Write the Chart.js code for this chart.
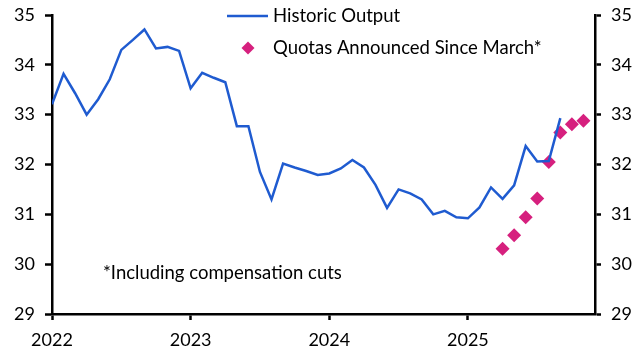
<!DOCTYPE html>
<html>
<head>
<meta charset="utf-8">
<script src="https://cdn.jsdelivr.net/npm/chart.js@4/dist/chart.umd.min.js"></script>
<style>
  html, body { margin: 0; padding: 0; background: #fff; }
  #wrap { width: 640px; height: 362px; position: relative; }
</style>
</head>
<body>
<div id="wrap"><canvas id="chart"></canvas></div>
<script>
// Données
const startMonth = '2022-01';
const historicOutput = [33.21, 33.82, 33.43, 33.0, 33.31, 33.71, 34.3, 34.5, 34.71, 34.33, 34.36, 34.28,
  33.53, 33.84, 33.74, 33.65, 32.77, 32.77, 31.85, 31.3, 32.02, 31.94, 31.87, 31.79,
  31.82, 31.92, 32.09, 31.94, 31.59, 31.13, 31.5, 31.42, 31.3, 31.0, 31.07, 30.94,
  30.92, 31.14, 31.54, 31.31, 31.58, 32.37, 32.06, 32.07, 32.93];
const quotaMonths = ['2025-04', '2025-05', '2025-06', '2025-07', '2025-08', '2025-09', '2025-10', '2025-11'];
const quotaValues = [30.31, 30.58, 30.94, 31.32, 32.05, 32.64, 32.81, 32.88];
const yearLabels = ['2022', '2023', '2024', '2025'];
const yTicks = [29, 30, 31, 32, 33, 34, 35];
const labelHistoric = 'Historic Output';
const labelQuotas = 'Quotas Announced Since March*';
const noteText = '*Including compensation cuts';

const FONT = 'Lato, "Noto Sans", sans-serif';
const BLUE = '#1f5bd0';
const PINK = '#d6207e';

function monthIndex(ym) {
    const [y, m] = ym.split('-').map(Number);
    const [y0, m0] = startMonth.split('-').map(Number);
    return (y - y0) * 12 + (m - m0);
}

const histPoints = historicOutput.map((v, i) => ({ x: i, y: v }));
const quotaPoints = quotaValues.map((v, i) => ({ x: monthIndex(quotaMonths[i]), y: v }));

// légende + note dessinées à la main
const extras = {
    id: 'extras',
    afterDraw(chart) {
        const ctx = chart.ctx;
        ctx.save();
        ctx.font = '18.5px ' + FONT;
        ctx.fillStyle = '#000';
        ctx.textBaseline = 'middle';
        ctx.textAlign = 'left';

        const lx = 227, tx = 273;
        ctx.strokeStyle = BLUE;
        ctx.lineWidth = 2.5;
        ctx.beginPath();
        ctx.moveTo(lx, 16);
        ctx.lineTo(lx + 41, 16);
        ctx.stroke();
        ctx.fillText(labelHistoric, tx, 16);

        ctx.fillStyle = PINK;
        ctx.beginPath();
        const dx = 248, dy = 48, r = 6.5;
        ctx.moveTo(dx, dy - r);
        ctx.lineTo(dx + r, dy);
        ctx.lineTo(dx, dy + r);
        ctx.lineTo(dx - r, dy);
        ctx.closePath();
        ctx.fill();
        ctx.fillStyle = '#000';
        ctx.fillText(labelQuotas, tx, 48);

        ctx.fillText(noteText, 103, 273);
        ctx.restore();
    }
};

const tickFont = { family: FONT, size: 18 };

function fitY(width) {
    return scale => {
        scale.width = width;
        scale.paddingTop = 0;
        scale.paddingBottom = 0;
    };
}

const ctx = document.getElementById('chart').getContext('2d');
const chart = new Chart(ctx, {
    type: 'line',
    data: {
        datasets: [{
            label: labelHistoric,
            data: histPoints,
            borderColor: BLUE,
            backgroundColor: BLUE,
            borderWidth: 2.5,
            pointRadius: 0,
            tension: 0,
            yAxisID: 'y'
        }, {
            label: labelQuotas,
            data: quotaPoints,
            showLine: false,
            pointStyle: 'rectRot',
            pointRadius: 7,
            pointBackgroundColor: PINK,
            pointBorderColor: PINK,
            pointBorderWidth: 0,
            yAxisID: 'y'
        }]
    },
    options: {
        responsive: true,
        maintainAspectRatio: false,
        animation: false,
        layout: { padding: { top: 15, bottom: 0, left: 0, right: 0 } },
        plugins: {
            legend: { display: false },
            tooltip: { enabled: false }
        },
        scales: {
            x: {
                type: 'linear',
                min: 0,
                max: 47,
                afterBuildTicks: scale => {
                    scale.ticks = yearLabels.map((_, i) => ({ value: i * 12 }));
                },
                afterFit: scale => {
                    scale.height = 48;
                    scale.paddingLeft = 0;
                    scale.paddingRight = 0;
                },
                ticks: {
                    callback: (v) => yearLabels[Math.round(v / 12)],
                    color: '#000',
                    font: tickFont,
                    padding: 9,
                    maxRotation: 0
                },
                grid: { drawOnChartArea: false, tickLength: 6, tickColor: '#000', tickWidth: 2.5 },
                border: { color: '#000', width: 2.5 }
            },
            y: {
                position: 'left',
                min: 29,
                max: 35,
                afterBuildTicks: scale => { scale.ticks = yTicks.map(v => ({ value: v })); },
                afterFit: fitY(52),
                ticks: { color: '#000', font: tickFont, padding: 10 },
                grid: { drawOnChartArea: false, tickLength: 7, tickColor: '#000', tickWidth: 2.5 },
                border: { color: '#000', width: 2.5 }
            },
            y2: {
                position: 'right',
                min: 29,
                max: 35,
                afterBuildTicks: scale => { scale.ticks = yTicks.map(v => ({ value: v })); },
                afterFit: fitY(45),
                ticks: { color: '#000', font: tickFont, padding: 10 },
                grid: { drawOnChartArea: false, tickLength: 6, tickColor: '#000', tickWidth: 2.5 },
                border: { color: '#000', width: 2.5 }
            }
        }
    },
    plugins: [extras]
});
</script>
</body>
</html>
